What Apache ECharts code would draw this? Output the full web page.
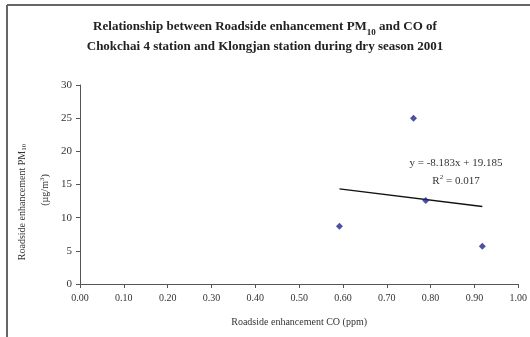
<!DOCTYPE html>
<html>
<head>
<meta charset="utf-8">
<script src="https://cdn.jsdelivr.net/npm/echarts@6/dist/echarts.min.js"></script>
<style>
  html, body { margin: 0; padding: 0; background: #fff; }
  #chart { width: 530px; height: 337px; }
</style>
</head>
<body>
<div id="chart"></div>
<script>
// Roadside enhancement CO (ppm) and PM10 (µg/m3), dry season 2001
const coValues = [0.592, 0.761, 0.789, 0.918];
const pm10Values = [8.7, 25.0, 12.6, 5.7];

// Linear trend reported on the chart
const trendSlope = -8.183;
const trendIntercept = 19.185;
const rSquared = 0.017;

const xTicks = [0, 0.1, 0.2, 0.3, 0.4, 0.5, 0.6, 0.7, 0.8, 0.9, 1.0];
const yTicks = [0, 5, 10, 15, 20, 25, 30];

const serif = '"Liberation Serif", "Times New Roman", serif';
const textColor = '#333';

const points = coValues.map((x, i) => [x, pm10Values[i]]);
const xMin = Math.min(...coValues);
const xMax = Math.max(...coValues);
const trendPoints = [
  [xMin, trendSlope * xMin + trendIntercept],
  [xMax, trendSlope * xMax + trendIntercept]
];

const chart = echarts.init(document.getElementById('chart'));
chart.setOption({
  backgroundColor: '#fff',
  animation: false,
  title: {
    text: '{b|Relationship between Roadside enhancement PM}{s|10}{b| and CO of}\n{b|Chokchai 4 station and Klongjan station during dry season 2001}',
    left: 260,
    top: 12,
    textAlign: 'center',
    textStyle: {
      rich: {
        b: { fontFamily: serif, fontWeight: 'bold', fontSize: 13, color: '#222', lineHeight: 20 },
        s: { fontFamily: serif, fontWeight: 'bold', fontSize: 9, color: '#222', verticalAlign: 'bottom', lineHeight: 20, padding: [6, 0, 0, 0] }
      }
    }
  },
  grid: { left: 80, right: 10, top: 85, bottom: 53 },
  xAxis: {
    type: 'value',
    min: xTicks[0],
    max: xTicks[xTicks.length - 1],
    interval: 0.1,
    splitLine: { show: false },
    axisLine: { lineStyle: { color: '#555', width: 1 } },
    axisTick: { show: true, length: 4, lineStyle: { color: '#555' } },
    axisLabel: {
      fontFamily: serif, fontSize: 10, color: textColor, margin: 9,
      formatter: v => v.toFixed(2)
    },
    name: 'Roadside enhancement CO (ppm)',
    nameLocation: 'middle',
    nameGap: 33,
    nameTextStyle: { fontFamily: serif, fontSize: 10, color: textColor }
  },
  yAxis: {
    type: 'value',
    min: yTicks[0],
    max: yTicks[yTicks.length - 1],
    interval: 5,
    splitLine: { show: false },
    axisLine: { show: true, lineStyle: { color: '#555', width: 1 } },
    axisTick: { show: true, length: 4, lineStyle: { color: '#555' } },
    axisLabel: { fontFamily: serif, fontSize: 11, color: textColor, margin: 8 }
  },
  graphic: [
    // page frame
    { type: 'line', shape: { x1: 7, y1: 5, x2: 530, y2: 5 }, style: { stroke: '#666', lineWidth: 2 } },
    { type: 'line', shape: { x1: 7, y1: 5, x2: 7, y2: 337 }, style: { stroke: '#666', lineWidth: 2 } },
    // y-axis title, two rotated lines
    {
      type: 'text', x: 22, y: 202, rotation: Math.PI / 2,
      style: {
        text: '{n|Roadside enhancement PM}{s|10}',
        align: 'center', verticalAlign: 'middle',
        rich: {
          n: { fontFamily: serif, fontSize: 10, fill: textColor },
          s: { fontFamily: serif, fontSize: 7, fill: textColor, padding: [4, 0, 0, 0] }
        }
      }
    },
    {
      type: 'text', x: 45, y: 190, rotation: Math.PI / 2,
      style: {
        text: '{n|(µg/m}{p|3}{n|)}',
        align: 'center', verticalAlign: 'middle',
        rich: {
          n: { fontFamily: serif, fontSize: 10, fill: textColor },
          p: { fontFamily: serif, fontSize: 7, fill: textColor, padding: [0, 0, 6, 0] }
        }
      }
    },
    // regression annotation
    {
      type: 'text', x: 456, y: 163,
      style: {
        text: 'y = ' + trendSlope.toFixed(3) + 'x + ' + trendIntercept.toFixed(3),
        align: 'center', verticalAlign: 'middle',
        fontFamily: serif, fontSize: 11, fill: textColor
      }
    },
    {
      type: 'text', x: 456, y: 181,
      style: {
        text: '{n|R}{p|2}{n| = ' + rSquared.toFixed(3) + '}',
        align: 'center', verticalAlign: 'middle',
        rich: {
          n: { fontFamily: serif, fontSize: 11, fill: textColor },
          p: { fontFamily: serif, fontSize: 7, fill: textColor, padding: [0, 0, 7, 0] }
        }
      }
    }
  ],
  series: [
    {
      type: 'line',
      data: trendPoints,
      symbol: 'none',
      lineStyle: { color: '#111', width: 1.5 },
      silent: true,
      z: 2
    },
    {
      type: 'scatter',
      data: points,
      symbol: 'diamond',
      symbolSize: 7,
      itemStyle: { color: '#23238c' },
      z: 3
    }
  ]
});
</script>
</body>
</html>
